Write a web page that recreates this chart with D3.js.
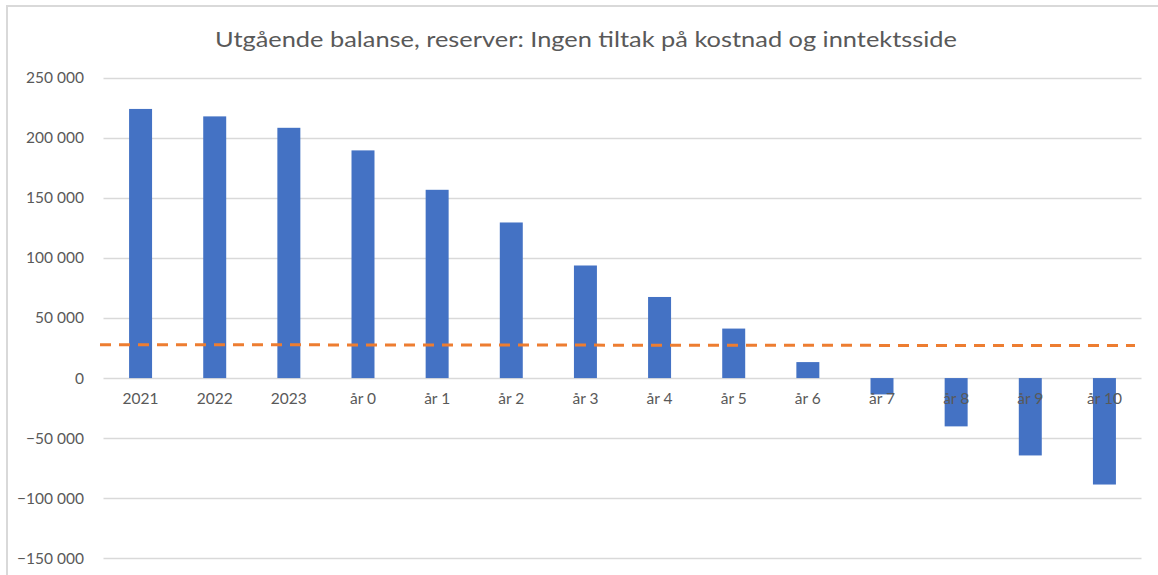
<!DOCTYPE html>
<html><head><meta charset="utf-8">
<script src="https://cdn.jsdelivr.net/npm/d3@7"></script>
<style>body{margin:0;background:#fff;}svg{display:block;}</style>
</head><body>
<script>
const categories = ["2021","2022","2023","år 0","år 1","år 2","år 3","år 4","år 5","år 6","år 7","år 8","år 9","år 10"];
const balance = [224000,217800,208300,189500,156700,129500,93700,67500,41200,13300,-13600,-40200,-64400,-88600];
const threshold = [27800,27740,27680,27620,27560,27500,27440,27380,27320,27260,27200,27140,27080,27020];
const yTicks = [-150000,-100000,-50000,0,50000,100000,150000,200000,250000];
const title = "Utgående balanse, reserver: Ingen tiltak på kostnad og inntektsside";

const W = 1158, H = 575;
const svg = d3.select("body").append("svg").attr("width", W).attr("height", H);
const font = "Lato, 'Open Sans', sans-serif";

// frame
svg.append("path").attr("d", `M7,${H} L7,6 L${W},6`).attr("fill","none").attr("stroke","#d9d9d9").attr("stroke-width",2);

const left = 103.5, right = 1141.5;
const y = d3.scaleLinear().domain([-150000, 250000]).range([558.3, 77.7]);
const x = d3.scaleBand().domain(categories).range([left, right]).paddingInner(0.69).paddingOuter(0.345);
const xl = d3.scalePoint().domain(categories).range([100, 1135]);

svg.append("text").attr("x", 586).attr("y", 47).attr("text-anchor","middle")
  .attr("font-family", font).attr("font-size", 21.5).attr("fill","#595959")
  .attr("textLength", 742).attr("lengthAdjust","spacingAndGlyphs").text(title);

// gridlines
svg.append("g").selectAll("line").data(yTicks).join("line")
  .attr("x1", left).attr("x2", right)
  .attr("y1", d => Math.round(y(d)) + 0.5).attr("y2", d => Math.round(y(d)) + 0.5)
  .attr("stroke", "#d9d9d9").attr("stroke-width", 1.3);

// y axis labels
const fmt = d => d3.format(",")(d).replace(/,/g, " ");
const yAxis = d3.axisLeft(y).tickValues(yTicks).tickFormat(fmt).tickSize(0).tickPadding(0);
const gy = svg.append("g").attr("transform", "translate(84,0)").call(yAxis);
gy.select(".domain").remove();
gy.selectAll("text").attr("font-family", font).attr("font-size", 15.5).attr("fill", "#595959");

// bars
svg.append("g").selectAll("rect").data(categories).join("rect")
  .attr("x", d => x(d)).attr("width", x.bandwidth())
  .attr("y", (d,i) => Math.min(y(balance[i]), y(0)))
  .attr("height", (d,i) => Math.abs(y(balance[i]) - y(0)))
  .attr("fill", "#4472c4");

// x axis labels
const xAxis = d3.axisBottom(x).tickSize(0).tickPadding(0);
const gx = svg.append("g").attr("transform", `translate(0,${y(0) + 15})`).call(xAxis);
gx.select(".domain").remove();
gx.selectAll("text").attr("font-family", font).attr("font-size", 15.5).attr("fill", "#595959");

// threshold line
const line = d3.line().x((d,i) => xl(categories[i])).y(d => y(d));
svg.append("path").datum(threshold).attr("d", line)
  .attr("fill","none").attr("stroke","#ed7d31").attr("stroke-width",3)
  .attr("stroke-dasharray","11,8");
</script>
</body></html>
